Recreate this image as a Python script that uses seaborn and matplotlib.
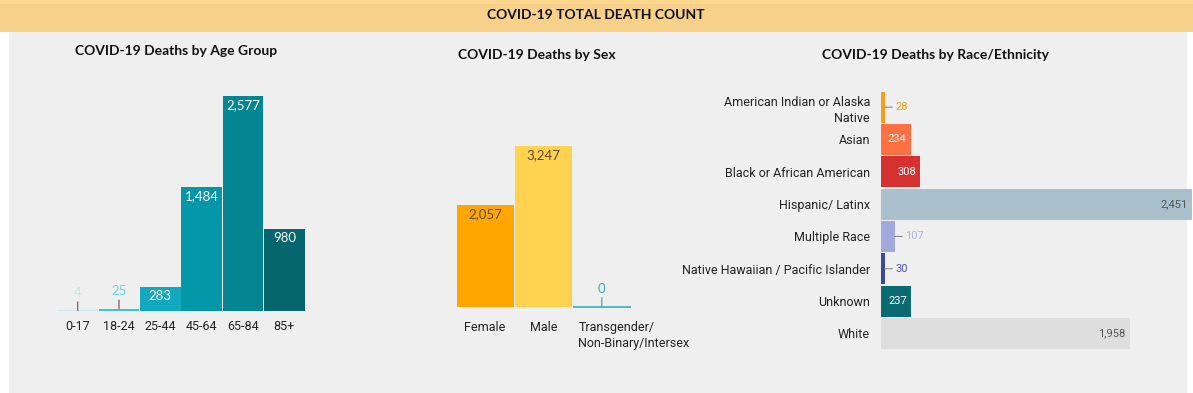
import matplotlib
matplotlib.use("Agg")
import matplotlib.pyplot as plt
import matplotlib.transforms as mtransforms
from matplotlib.patches import Rectangle
import seaborn as sns

# ---- data ----
age_groups = ["0-17", "18-24", "25-44", "45-64", "65-84", "85+"]
age_deaths = [4, 25, 283, 1484, 2577, 980]
age_colors = ["#c9e7ec", "#3fc2d4", "#12a9bf", "#0497a9", "#058592", "#05666e"]
age_label_colors = ["#c4e4ea", "#6fcfdc", "white", "white", "white", "white"]

sex_groups = ["Female", "Male", "Transgender/\nNon-Binary/Intersex"]
sex_deaths = [2057, 3247, 0]
sex_colors = ["#ffa600", "#ffd34f", "#3aaebf"]
sex_label_colors = ["#5c4a2e", "#5c4a2e", "#3aaebf"]

race_groups = ["American Indian or Alaska\nNative", "Asian", "Black or African American",
               "Hispanic/ Latinx", "Multiple Race", "Native Hawaiian / Pacific Islander",
               "Unknown", "White"]
race_deaths = [28, 234, 308, 2451, 107, 30, 237, 1958]
race_colors = ["#f5a01a", "#ff7043", "#d63131", "#a9c1cc", "#a3a8dc", "#3c48a0", "#0a6b72", "#dedede"]
race_label_colors = ["#f5a623", "white", "white", "#555555", "#b0b4e0", "#4c57b0", "white", "#555555"]

W, H = 1193, 393
fig = plt.figure(figsize=(W / 100, H / 100), dpi=100)
fig.patch.set_facecolor("white")

def px_axes(x0, y0, x1, y1):
    return fig.add_axes([x0 / W, 1 - y1 / H, (x1 - x0) / W, (y1 - y0) / H])

def clean(ax):
    ax.set_facecolor("none")
    for s in ax.spines.values():
        s.set_visible(False)
    ax.tick_params(length=0)
    ax.set_xlabel("")
    ax.set_ylabel("")

# backgrounds
fig.patches.append(Rectangle((9 / W, 0), 1178 / W, (H - 32) / H, transform=fig.transFigure,
                             facecolor="#efefef", edgecolor="none", zorder=-2))
fig.patches.append(Rectangle((0, 1 - 32 / H), 1, 32 / H, transform=fig.transFigure,
                             facecolor="#f7d08a", edgecolor="none", zorder=-2))
fig.patches.append(Rectangle((0, 1 - 4 / H), 1, 4 / H, transform=fig.transFigure,
                             facecolor="#fbd88d", edgecolor="none", zorder=-2))
fig.text(596 / W, 1 - 15 / H, "COVID-19 TOTAL DEATH COUNT", ha="center", va="center",
         fontsize=10, fontweight="bold", family="Lato", color="#111")

# ---- age group ----
ax = px_axes(57, 77.5, 305, 310.7)
sns.barplot(x=age_groups, y=age_deaths, hue=age_groups, palette=age_colors, width=0.98,
            saturation=1, legend=False, ax=ax)
ax.set_xlim(-0.5, len(age_groups) - 0.5)
ax.set_ylim(0, 2800)
ax.set_yticks([])
clean(ax)
ax.tick_params(axis="x", pad=7, labelsize=9, labelcolor="#222")
for t in ax.get_xticklabels():
    t.set_family("Roboto")
for i, v in enumerate(age_deaths):
    if v > 100:
        ax.annotate(f"{v:,}", (i, v), xytext=(0, -2), textcoords="offset points", ha="center",
                    va="top", fontsize=9.5, family="Lato", color=age_label_colors[i])
    else:
        ax.annotate(f"{v:,}", (i, v), xytext=(0, 9.5), textcoords="offset points", ha="center",
                    va="baseline", fontsize=9.5, family="Lato", color=age_label_colors[i],
                    arrowprops=dict(arrowstyle="-", color="#8b6f6f", lw=1.0, shrinkA=0, shrinkB=0))
fig.text(176 / W, 1 - 51 / H, "COVID-19 Deaths by Age Group", ha="center", va="center",
         fontsize=10, fontweight="bold", family="Lato", color="#111")

# ---- sex ----
ax = px_axes(456, 108.3, 631, 306.7)
sns.barplot(x=sex_groups, y=sex_deaths, hue=sex_groups, palette=sex_colors, width=0.98,
            saturation=1, legend=False, ax=ax)
ax.set_xlim(-0.5, len(sex_groups) - 0.5)
ax.set_ylim(0, 4000)
ax.set_yticks([])
clean(ax)
ax.tick_params(axis="x", pad=10, labelsize=9, labelcolor="#222")
# long multi-line label sits left-aligned a little inside its bar
ax.set_xticks(range(len(sex_groups)), [g if "\n" not in g else "" for g in sex_groups])
for t in ax.get_xticklabels():
    t.set_family("Roboto")
xlab = mtransforms.blended_transform_factory(ax.transData, ax.transAxes)
for i, g in enumerate(sex_groups):
    if "\n" in g:
        ax.text(i - 0.4, 0, g, transform=xlab + mtransforms.ScaledTranslation(0, -10 / 72, fig.dpi_scale_trans),
                ha="left", va="top", fontsize=9, family="Roboto", color="#222", linespacing=1.3)
for i, v in enumerate(sex_deaths):
    if v > 0:
        ax.annotate(f"{v:,}", (i, v), xytext=(0, -2.5), textcoords="offset points", ha="center",
                    va="top", fontsize=9.5, family="Lato", color=sex_label_colors[i])
    else:
        ax.hlines(0, i - 0.5, i + 0.5, color=sex_colors[i], lw=1.2, clip_on=False)
        ax.annotate(f"{v:,}", (i, v), xytext=(0, 10), textcoords="offset points", ha="center",
                    va="baseline", fontsize=9.5, family="Lato", color=sex_label_colors[i],
                    arrowprops=dict(arrowstyle="-", color=sex_colors[i], lw=0.9, shrinkA=0, shrinkB=0))
fig.text(537 / W, 1 - 55 / H, "COVID-19 Deaths by Sex", ha="center", va="center",
         fontsize=10, fontweight="bold", family="Lato", color="#111")

# ---- race / ethnicity ----
ax = px_axes(881, 91, 1193, 349.5)
sns.barplot(x=race_deaths, y=race_groups, hue=race_groups, palette=race_colors, orient="h",
            width=0.96, saturation=1, legend=False, ax=ax)
ax.set_xlim(0, 2457)
ax.set_ylim(len(race_groups) - 0.5, -0.5)
ax.set_xticks([])
clean(ax)
ax.tick_params(axis="y", pad=8, labelsize=9, labelcolor="#222")
for t in ax.get_yticklabels():
    t.set_family("Roboto")
    t.set_linespacing(1.35)
for i, v in enumerate(race_deaths):
    if v > 200:
        ax.annotate(f"{v:,}", (v, i), xytext=(-3, 0), textcoords="offset points", ha="right",
                    va="center", fontsize=8, family="Roboto", color=race_label_colors[i])
    else:
        ax.annotate(f"{v:,}", (v, i), xytext=(7.5, 0), textcoords="offset points", ha="left",
                    va="center", fontsize=8, family="Roboto", color=race_label_colors[i],
                    arrowprops=dict(arrowstyle="-", color="#888888", lw=0.8, shrinkA=0, shrinkB=0))
fig.text(935 / W, 1 - 55 / H, "COVID-19 Deaths by Race/Ethnicity", ha="center", va="center",
         fontsize=10, fontweight="bold", family="Lato", color="#111")

fig.savefig("out.png", dpi=100)
